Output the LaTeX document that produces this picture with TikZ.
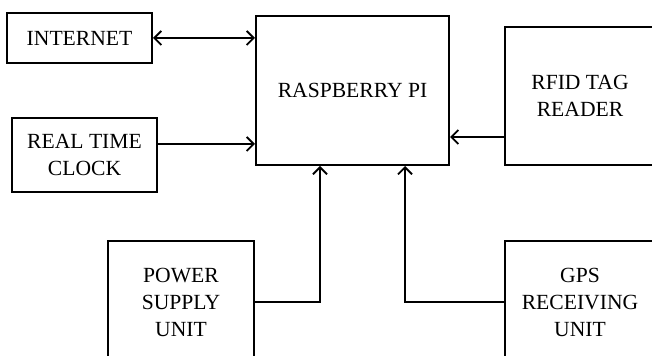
\documentclass[tikz,border=0pt]{standalone}
\usepackage{fontspec}
\setmainfont{Liberation Serif}
\usetikzlibrary{arrows.meta,positioning,calc}
\tikzset{
  blk/.style={draw=black,line width=1pt,fill=white,inner sep=0pt,
    font=\fontsize{10.8}{13.5}\selectfont,align=center},
  arr/.style={-{Straight Barb[length=3.5pt,width=7pt,line width=0.9pt]},draw=black,line width=1pt},
  arr_both/.style={{Straight Barb[length=3.5pt,width=7pt,line width=0.9pt]}-{Straight Barb[length=3.5pt,width=7pt,line width=0.9pt]},draw=black,line width=1pt},
}
\begin{document}
\begin{tikzpicture}[x=0.5pt,y=-0.5pt]
    \clip (0,0) rectangle (652,356);
    \fill[white] (0,0) rectangle (652,356);

    \node[blk,minimum width=72.5pt,minimum height=25pt] (net) at (79.5,38) {INTERNET};
    \node[blk,minimum width=72.5pt,minimum height=37pt] (rtc) at (84.5,155) {REAL TIME\\CLOCK};
    \node[blk,minimum width=96.5pt,minimum height=74.5pt] (rpi) at (352.5,90.5) {RASPBERRY PI};
    \node[blk,minimum width=75pt,minimum height=69pt] (rfid) at (580,96) {RFID TAG\\READER};
    \node[blk,minimum width=73pt,minimum height=61pt] (psu) at (181,302) {POWER\\SUPPLY\\UNIT};
    \node[blk,minimum width=75pt,minimum height=61pt] (gps) at (580,302) {GPS\\RECEIVING\\UNIT};

    \draw[arr_both] (net.east) -- (net.east -| rpi.west);
    \draw[arr] ([yshift=5.5pt]rtc.east) -- ([yshift=5.5pt]rtc.east -| rpi.west);
    \draw[arr] ([yshift=-20.5pt]rfid.west) -- ([yshift=-20.5pt]rfid.west -| rpi.east);
    \draw[arr] (psu.east) -| ([xshift=-16.25pt]rpi.south);
    \draw[arr] (gps.west) -| ([xshift=26.25pt]rpi.south);
  \end{tikzpicture}
\end{document}
